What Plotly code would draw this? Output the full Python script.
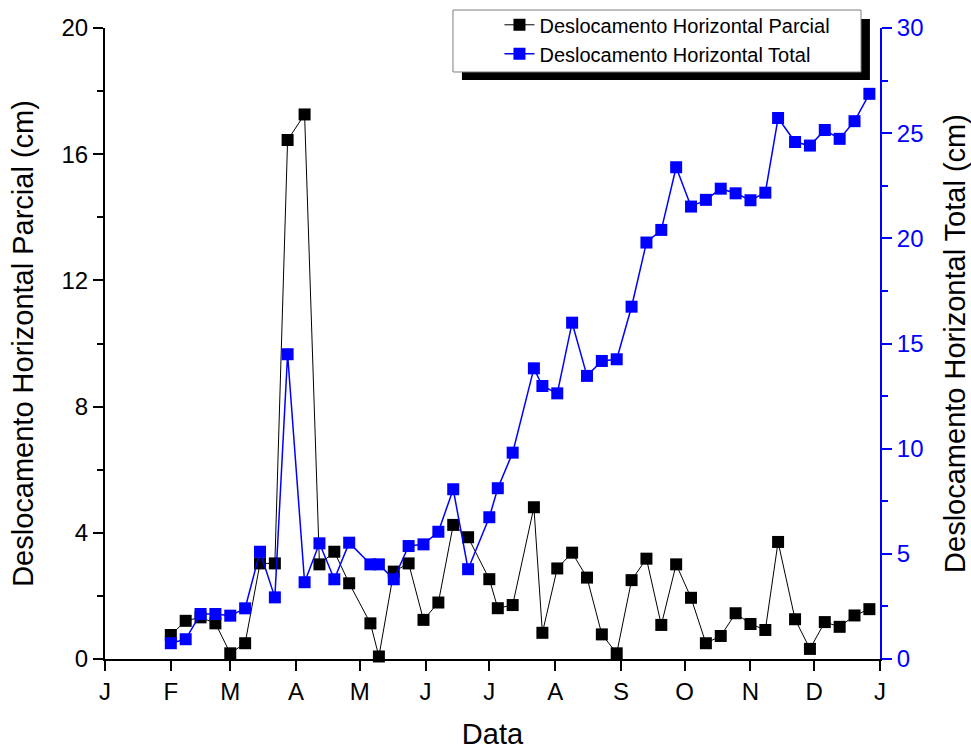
import plotly.graph_objects as go

dates = ["2013-02-01", "2013-02-08", "2013-02-15", "2013-02-22", "2013-03-01", "2013-03-08",
         "2013-03-15", "2013-03-22", "2013-03-28", "2013-04-05", "2013-04-12", "2013-04-19",
         "2013-04-26", "2013-05-06", "2013-05-10", "2013-05-17", "2013-05-24", "2013-05-31",
         "2013-06-07", "2013-06-14", "2013-06-21", "2013-07-01", "2013-07-05", "2013-07-12",
         "2013-07-22", "2013-07-26", "2013-08-02", "2013-08-09", "2013-08-16", "2013-08-23",
         "2013-08-30", "2013-09-06", "2013-09-13", "2013-09-20", "2013-09-27", "2013-10-04",
         "2013-10-11", "2013-10-18", "2013-10-25", "2013-11-01", "2013-11-08", "2013-11-14",
         "2013-11-22", "2013-11-29", "2013-12-06", "2013-12-13", "2013-12-20", "2013-12-27"]

parcial = [0.76, 1.21, 1.32, 1.13, 0.18, 0.50, 3.03, 3.03, 16.45, 17.26, 3.00, 3.40,
           2.40, 1.13, 0.08, 2.77, 3.03, 1.24, 1.79, 4.25, 3.86, 2.53, 1.61, 1.71,
           4.81, 0.83, 2.87, 3.37, 2.58, 0.78, 0.18, 2.50, 3.18, 1.08, 3.00, 1.94,
           0.50, 0.73, 1.45, 1.11, 0.92, 3.71, 1.26, 0.32, 1.17, 1.02, 1.38, 1.58]

total = [0.75, 0.94, 2.14, 2.14, 2.06, 2.41, 5.10, 2.93, 14.49, 3.65, 5.50, 3.79,
         5.53, 4.50, 4.50, 3.79, 5.37, 5.45, 6.05, 8.07, 4.27, 6.74, 8.12, 9.81,
         13.82, 12.98, 12.63, 15.99, 13.46, 14.17, 14.25, 16.75, 19.80, 20.40, 23.38, 21.51,
         21.83, 22.36, 22.14, 21.81, 22.17, 25.72, 24.58, 24.41, 25.15, 24.73, 25.57, 26.87]

month_ticks = ["2013-01-01", "2013-02-01", "2013-03-01", "2013-04-01", "2013-05-01", "2013-06-01",
               "2013-07-01", "2013-08-01", "2013-09-01", "2013-10-01", "2013-11-01", "2013-12-01",
               "2014-01-01"]
month_labels = ["J", "F", "M", "A", "M", "J", "J", "A", "S", "O", "N", "D", "J"]

FONT = "Liberation Sans, Arial, sans-serif"
BLUE = "#0000ff"

fig = go.Figure()
fig.add_trace(go.Scatter(
    x=dates, y=parcial, name="Deslocamento Horizontal Parcial",
    mode="lines+markers", line=dict(color="#000000", width=1),
    marker=dict(symbol="square", size=12, color="#000000"),
    cliponaxis=False, yaxis="y"))
fig.add_trace(go.Scatter(
    x=dates, y=total, name="Deslocamento Horizontal Total",
    mode="lines+markers", line=dict(color=BLUE, width=1.5),
    marker=dict(symbol="square", size=12, color=BLUE),
    cliponaxis=False, yaxis="y2"))

# legend frame with shadow
fig.add_shape(type="rect", xref="paper", yref="paper", x0=0.4606, x1=0.987, y0=0.9176, y1=1.0143,
              fillcolor="#000000", line=dict(width=0), layer="above")
fig.add_shape(type="rect", xref="paper", yref="paper", x0=0.449, x1=0.9755, y0=0.9303, y1=1.0285,
              fillcolor="#ffffff", line=dict(color="#808080", width=1), layer="above")

fig.update_layout(
    width=971, height=753,
    margin=dict(l=105, r=91, t=28, b=94, autoexpand=False),
    paper_bgcolor="white", plot_bgcolor="white",
    font=dict(family=FONT, size=24, color="#000000"),
    showlegend=True,
    legend=dict(x=0.509, y=1.036, xanchor="left", yanchor="top",
                bgcolor="rgba(0,0,0,0)", borderwidth=0,
                font=dict(family=FONT, size=20, color="#000000"),
                tracegroupgap=0, itemwidth=30),
    xaxis=dict(type="date", range=["2013-01-01", "2014-01-01"],
               tickmode="array", tickvals=month_ticks, ticktext=month_labels,
               ticks="outside", ticklen=10, tickwidth=2, tickcolor="#000000",
               showline=True, linecolor="#000000", linewidth=2,
               showgrid=False, zeroline=False,
               tickfont=dict(size=24, color="#000000"),
               title=dict(text="Data", font=dict(size=29), standoff=20)),
    yaxis=dict(range=[0, 20], tickmode="linear", tick0=0, dtick=4,
               ticks="outside", ticklen=10, tickwidth=2, tickcolor="#000000",
               minor=dict(ticks="outside", dtick=2, ticklen=6, tickwidth=2, tickcolor="#000000"),
               showline=True, linecolor="#000000", linewidth=2,
               showgrid=False, zeroline=False,
               tickfont=dict(size=24, color="#000000"),
               title=dict(text="Deslocamento Horizontal Parcial (cm)", font=dict(size=29), standoff=19)),
    yaxis2=dict(range=[0, 30], tickmode="linear", tick0=0, dtick=5,
                overlaying="y", side="right", anchor="x",
                ticks="outside", ticklen=10, tickwidth=2, tickcolor=BLUE,
                minor=dict(ticks="outside", dtick=2.5, ticklen=6, tickwidth=2, tickcolor=BLUE),
                showline=True, linecolor=BLUE, linewidth=2,
                showgrid=False, zeroline=False,
                tickfont=dict(size=24, color=BLUE),
                title=dict(text="Deslocamento Horizontal Total (cm)", font=dict(size=29, color="#000000"), standoff=22)),
)

fig.write_html("out.html")
